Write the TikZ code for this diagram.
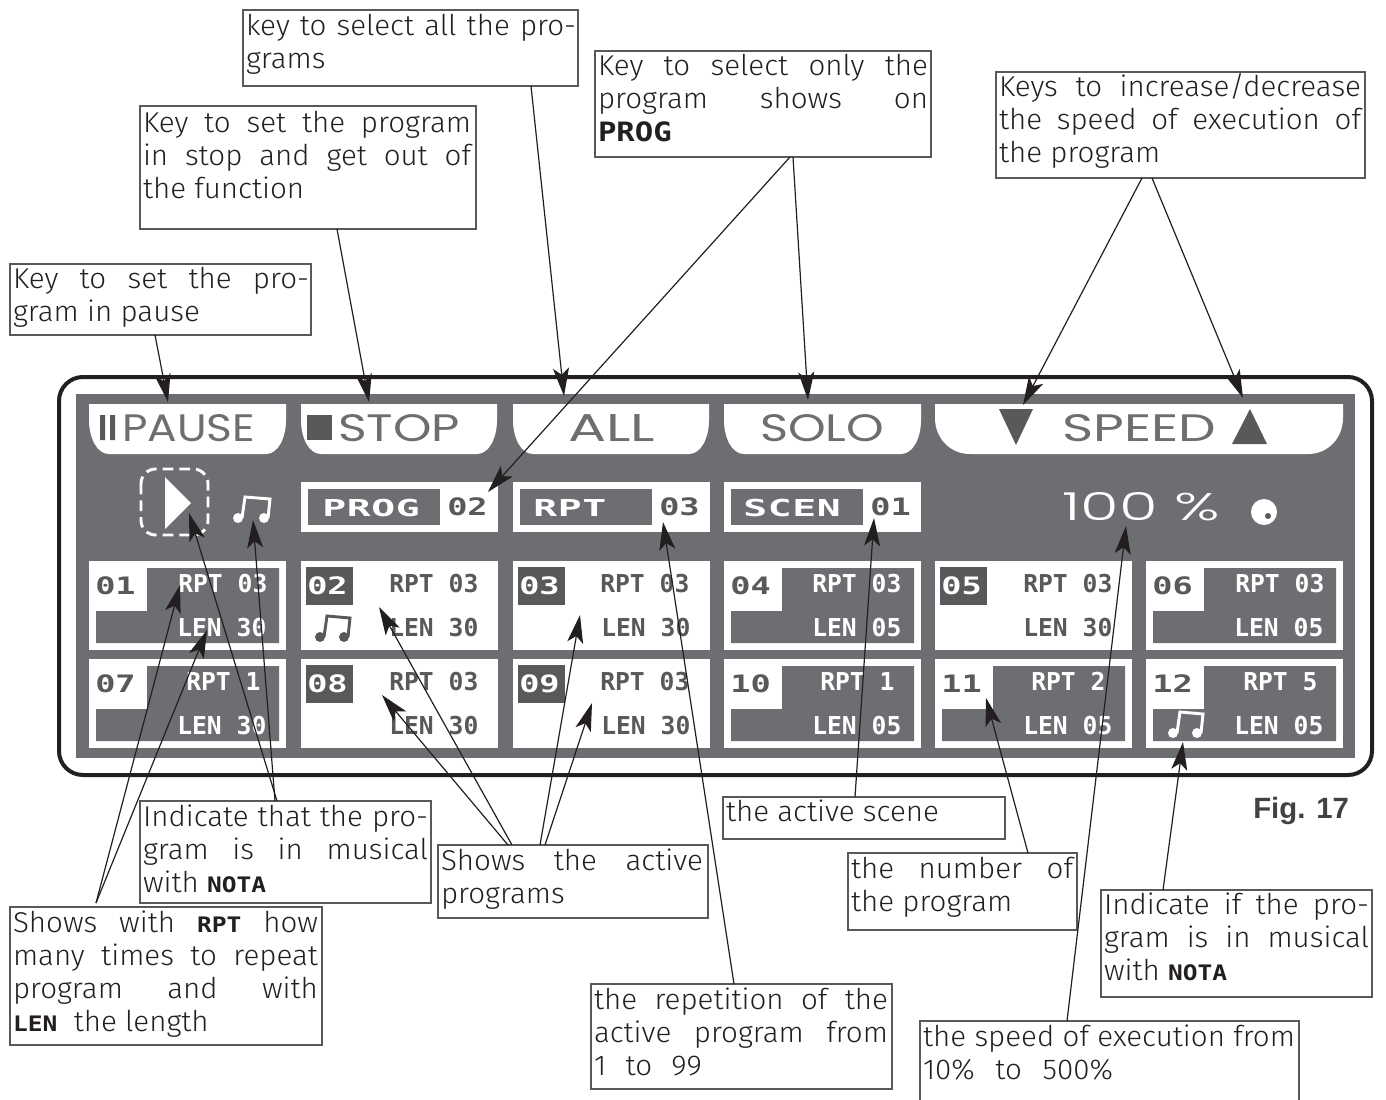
\documentclass[tikz,border=0pt]{standalone}
\usepackage{fontspec}
\usepackage{graphicx}
\usetikzlibrary{arrows.meta,calc}
\setmainfont{Liberation Sans}
\newfontfamily\labfam[FakeStretch=1.03]{Fira Sans Light}
\newfontfamily\bigfam{Poppins}
\newfontfamily\lightfam{Poppins Light}
\newfontfamily\monofam{DejaVu Sans Mono}
\newfontfamily\inlfam[FakeStretch=1.15]{DejaVu Sans Mono}
\newfontfamily\numfam[FakeStretch=1.4]{DejaVu Sans Mono}
\newfontfamily\widefam[FakeStretch=1.7,LetterSpace=3]{DejaVu Sans Mono}
\definecolor{panelgray}{HTML}{6D6E71}
\definecolor{darkgray}{HTML}{58595B}
\definecolor{inkline}{HTML}{231F20}
\newcommand\labf{\labfam\fontsize{21.5}{24.75}\selectfont}
\newcommand\lcdb[1]{{\inlfam\bfseries\fontsize{16}{24.75}\selectfont #1}}
\newcommand\lcdB[1]{{\inlfam\bfseries\fontsize{20}{24.75}\selectfont #1}}
\newcommand\jl[2]{\makebox[\dimexpr 0.75pt*#1\relax][s]{#2}}
\newcommand\fitw[3]{\resizebox{\dimexpr 0.75pt*#1\relax}{\dimexpr 0.75pt*#2\relax}{#3}}
\tikzset{
  lblbox/.style={draw=darkgray,line width=0.8pt,fill=white,inner sep=0pt,outer sep=0pt},
  lbltext/.style={font=\labf,text=inkline,align=left,inner sep=0pt,outer sep=0pt},
  ptr/.style={draw=inkline,line width=0.9pt,-{Stealth[length=21pt,width=12pt,inset=5pt]}},
  btntext/.style={font=\bigfam\fontsize{29}{30}\selectfont,text=panelgray,anchor=base west,inner sep=0pt},
  celltext/.style={font=\monofam\bfseries\fontsize{18.5}{20}\selectfont,anchor=base west,inner sep=0pt},
  numtext/.style={font=\numfam\bfseries\fontsize{18}{18}\selectfont,anchor=base west,inner sep=0pt},
  widetext/.style={font=\widefam\bfseries\fontsize{17.5}{18}\selectfont,anchor=base west,inner sep=0pt,text=white},
}
\newcommand\lbox[7][4]{%
  \node[lblbox,anchor=north west,minimum width={(#5-#3)*0.75pt},minimum height={(#6-#4)*0.75pt}] (#2) at (#3,#4) {};
  \node[lbltext,anchor=north west] (#2t) at (#3+3,#4+#1) {#7};
}
\newcommand\btn[2]{%
  \fill[white] (#1,404) -- (#2,404) -- (#2,420) .. controls (#2,438) and (#2-8,454) .. (#2-20,454)
     -- (#1+20,454) .. controls (#1+8,454) and (#1,438) .. (#1,420) -- cycle;
}
\newcommand\mnote[4]{% x y colour spread
  \begin{scope}[shift={(#1,#2)}]
    \fill[#3] (0,0) circle [x radius=5,y radius=5];
    \fill[#3] (#4,0) circle [x radius=5,y radius=5];
    \draw[#3,line width=2.2pt] (4,0) -- (7,-21) -- (#4+6,-19) -- (#4+4,0);
  \end{scope}
}
\newcommand\cellA[7]{%
  \fill[white] (#2,#3) rectangle (#2+197,#3+89);
  \fill[panelgray] (#2+58,#3+7) -- (#2+190,#3+7) -- (#2+190,#3+82) -- (#2+7,#3+82) -- (#2+7,#3+50) -- (#2+58,#3+50) -- cycle;
  \node[numtext,text=darkgray] (n#1) at (#2+6,#3+33) {#4};
  \node[celltext,text=white] (r#1) at (#5,#3+31) {#6};
  \node[celltext,text=white] (l#1) at (#2+88,#3+75) {#7};
}
\newcommand\cellB[7]{%
  \fill[white] (#2,#3) rectangle (#2+197,#3+89);
  \fill[darkgray] (#2+5,#3+6) rectangle (#2+52,#3+44);
  \node[numtext,text=white] (n#1) at (#2+6,#3+33) {#4};
  \node[celltext,text=darkgray] (r#1) at (#5,#3+31) {#6};
  \node[celltext,text=darkgray] (l#1) at (#2+88,#3+75) {#7};
}
\newcommand\progbox[5]{%
  \fill[white] (#2,482) rectangle (#2+197,532);
  \fill[panelgray] (#2+7,489) rectangle (#2+139,525);
  \node[widetext] (p#1) at (#3,516) {#4};
  \node[numtext,text=darkgray] (q#1) at (#2+146,515) {#5};
}
\begin{document}
\begin{tikzpicture}[x=0.75pt,y=-0.75pt]
\useasboundingbox (0,0) rectangle (1386,1100);
\fill[white] (0,0) rectangle (1386,1100);
% panel
\draw[inkline,line width=3pt,rounded corners=18pt,fill=white] (59,377) rectangle (1372,775);
\fill[panelgray] (76,394) rectangle (1355,758);
% buttons
\btn{89}{286}\btn{301}{497}\btn{513}{709}\btn{724}{921}
\fill[white] (935,404) -- (1343,404) -- (1343,418) .. controls (1343,438) and (1328,454) .. (1308,454)
  -- (970,454) .. controls (950,454) and (935,438) .. (935,418) -- cycle;
\fill[darkgray] (100,415) rectangle (105,440) (110,415) rectangle (115,440);
\fill[darkgray] (307,415) rectangle (332,440);
\node[btntext] (bpause) at (122,441) {\fitw{133}{27}{PAUSE}};
\node[btntext] (bstop) at (338,441) {\fitw{122}{27}{STOP}};
\node[btntext] (ball) at (568,441) {\fitw{87}{27}{ALL}};
\node[btntext] (bsolo) at (760,441) {\fitw{124}{27}{SOLO}};
\node[btntext] (bspeed) at (1062,441) {\fitw{154}{27}{SPEED}};
\fill[darkgray] (999,409) -- (1033,409) -- (1016,445) -- cycle;
\fill[darkgray] (1232,444) -- (1267,444) -- (1250,409) -- cycle;
% play & note
\draw[white,line width=2.2pt,dash pattern=on 8pt off 4.5pt,rounded corners=11pt] (141,469) rectangle (208,535);
\fill[white] (165,477) -- (191,503) -- (165,529) -- cycle;
\mnote{238}{518}{white}{26}
% prog row
\progbox{a}{301}{322}{PROG}{02}
\progbox{b}{513}{533}{RPT}{03}
\progbox{c}{724}{743}{SCEN}{01}
\node[font=\lightfam\fontsize{29}{30}\selectfont,text=white,anchor=base west,inner sep=0pt] (speedval) at (1062,520) {\fitw{158}{28}{100 \%}};
\fill[white] (1264,512) circle [x radius=13,y radius=13];
\fill[darkgray] (1268,516) circle [radius=3];
% cells
\cellA{01}{89}{561}{01}{178}{RPT 03}{LEN 30}
\cellB{02}{301}{561}{02}{389}{RPT 03}{LEN 30}
\cellB{03}{513}{561}{03}{600}{RPT 03}{LEN 30}
\cellA{04}{724}{561}{04}{812}{RPT 03}{LEN 05}
\cellB{05}{935}{561}{05}{1023}{RPT 03}{LEN 30}
\cellA{06}{1146}{561}{06}{1235}{RPT 03}{LEN 05}
\cellA{07}{89}{659}{07}{186}{RPT 1}{LEN 30}
\cellB{08}{301}{659}{08}{389}{RPT 03}{LEN 30}
\cellB{09}{513}{659}{09}{600}{RPT 03}{LEN 30}
\cellA{10}{724}{659}{10}{820}{RPT 1}{LEN 05}
\cellA{11}{935}{659}{11}{1031}{RPT 2}{LEN 05}
\cellA{12}{1146}{659}{12}{1243}{RPT 5}{LEN 05}
\mnote{320}{637}{darkgray}{24}
\mnote{1173}{733}{white}{24}
% boxes
\lbox[3]{bxA}{10}{264}{311}{335}{\jl{296}{Key to set the pro-}\\gram in pause}
\lbox[5]{bxB}{140}{106}{476}{229}{\jl{328}{Key to set the program}\\\jl{328}{in stop and get out of}\\the function}
\lbox{bxC}{243}{10}{578}{86}{\jl{330}{key to select all the pro-}\\grams}
\lbox[3]{bxD}{595}{51}{931}{157}{\jl{330}{Key to select only the}\\\jl{330}{program shows on}\\\lcdB{PROG}}
\lbox[1]{bxE}{996}{72}{1365}{178}{\jl{362}{Keys to increase/decrease}\\\jl{362}{the speed of execution of}\\the program}
\lbox{bxF}{140}{801}{431}{903}{\jl{285}{Indicate that the pro-}\\\jl{285}{gram is in musical}\\with \lcdb{NOTA}}
\lbox{bxG}{10}{907}{322}{1045}{\jl{305}{Shows with \lcdb{RPT} how}\\\jl{305}{many times to repeat}\\\jl{305}{program and with}\\\lcdb{LEN} \ the length}
\lbox{bxH}{438}{845}{708}{918}{\jl{262}{Shows the active}\\programs}
\lbox{bxI}{591}{984}{892}{1089}{\jl{294}{the repetition of the}\\\jl{294}{active program from}\\\jl{108}{1 to 99}}
\lbox[3]{bxJ}{723}{797}{1005}{839}{the active scene}
\lbox{bxK}{848}{853}{1077}{930}{\jl{222}{the number of}\\the program}
\lbox[3]{bxL}{1101}{890}{1372}{997}{\jl{265}{Indicate if the pro-}\\\jl{265}{gram is in musical}\\with \lcdb{NOTA}}
\lbox{bxM}{920}{1021}{1299}{1103}{\jl{372}{the speed of execution from}\\\jl{190}{10\% to 500\%}}
\node[font=\bfseries\fontsize{22}{24}\selectfont,text=inkline!85,anchor=base west,inner sep=0pt] (figlabel) at (1253,818) {Fig. 17};
% connector tips
\coordinate (tPause) at (168,402);
\coordinate (tStop) at (369,402);
\coordinate (tAll) at (564,396);
\coordinate (tSolo) at (808,400);
\coordinate (tProg) at (488,492);
\coordinate (tDown) at (1023,405);
\coordinate (tUp) at (1243,398);
\coordinate (tPlay) at (189,513);
\coordinate (tNote) at (253,520);
\coordinate (tRpt) at (180,585);
\coordinate (tLen) at (207,630);
\coordinate (tC2) at (379,607);
\coordinate (tC8) at (382,695);
\coordinate (tC3) at (580,615);
\coordinate (tC9) at (592,703);
\coordinate (tRep) at (663,522);
\coordinate (tScene) at (874,518);
\coordinate (tNum) at (986,698);
\coordinate (tMus) at (1183,742);
\coordinate (tSpeed) at (1126,526);
\coordinate (gOrigin) at (96,903);
% connectors
\draw[ptr] ($(bxA.south west)+(145,0)$) -- (tPause);
\draw[ptr] ($(bxB.south west)+(197,0)$) -- (tStop);
\draw[ptr] ($(bxC.south west)+(288,0)$) -- (tAll);
\draw[ptr] ($(bxD.south west)+(198,0)$) -- (tSolo);
\draw[ptr] ($(bxD.south west)+(195,0)$) -- (tProg);
\draw[ptr] ($(bxE.south west)+(146,0)$) -- (tDown);
\draw[ptr] ($(bxE.south west)+(156,0)$) -- (tUp);
\draw[ptr] ($(bxF.north west)+(137,0)$) -- (tPlay);
\draw[ptr] ($(bxF.north west)+(135,0)$) -- (tNote);
\draw[ptr] (gOrigin) -- (tRpt);
\draw[ptr] (gOrigin) -- (tLen);
\draw[ptr] ($(bxH.north west)+(74,0)$) -- (tC2);
\draw[ptr] ($(bxH.north west)+(70,0)$) -- (tC8);
\draw[ptr] ($(bxH.north west)+(102,0)$) -- (tC3);
\draw[ptr] ($(bxH.north west)+(107,0)$) -- (tC9);
\draw[ptr] ($(bxI.north west)+(143,0)$) -- (tRep);
\draw[ptr] ($(bxJ.north west)+(132,0)$) -- (tScene);
\draw[ptr] ($(bxK.north west)+(180,0)$) -- (tNum);
\draw[ptr] ($(bxL.north west)+(62,0)$) -- (tMus);
\draw[ptr] ($(bxM.north west)+(147,0)$) -- (tSpeed);
\end{tikzpicture}
\end{document}
